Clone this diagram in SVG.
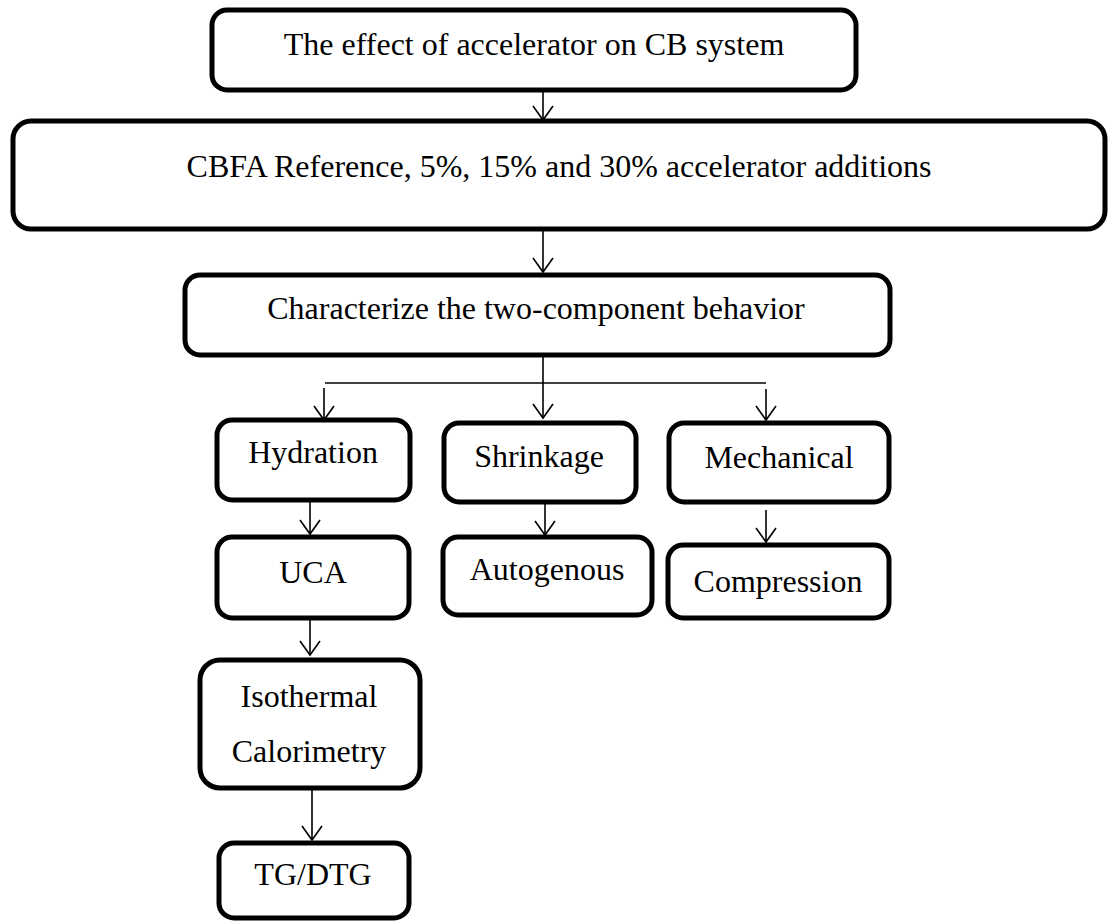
<svg xmlns="http://www.w3.org/2000/svg" width="1109" height="922" viewBox="0 0 1109 922">
<style>
.box{fill:#fff;stroke:#000;stroke-width:5}
.lbl{font-family:"Liberation Serif","Times New Roman",serif;font-size:32px;fill:#000;text-anchor:middle}
.con{fill:none;stroke:#000;stroke-width:1.6}
</style>
<defs>
<marker id="ah" markerUnits="userSpaceOnUse" orient="auto" refX="0" refY="0" markerWidth="40" markerHeight="40" viewBox="-20 -20 40 40" overflow="visible">
<path d="M-14,-10 L0,0 L-14,10" fill="none" stroke="#000" stroke-width="1.6"/>
</marker>
</defs>
<rect width="1109" height="922" fill="#fff"/>
<g id="connectors">
<line class="con" x1="543" y1="92" x2="543" y2="120" marker-end="url(#ah)"/>
<line class="con" x1="543" y1="231" x2="543" y2="272" marker-end="url(#ah)"/>
<line class="con" x1="543" y1="357" x2="543" y2="383"/>
<line class="con" x1="325" y1="383" x2="766" y2="383"/>
<line class="con" x1="324" y1="388" x2="324" y2="420" marker-end="url(#ah)"/>
<line class="con" x1="543" y1="383" x2="543" y2="418" marker-end="url(#ah)"/>
<line class="con" x1="766" y1="389" x2="766" y2="420" marker-end="url(#ah)"/>
<line class="con" x1="310" y1="502" x2="310" y2="534" marker-end="url(#ah)"/>
<line class="con" x1="545" y1="502" x2="545" y2="535" marker-end="url(#ah)"/>
<line class="con" x1="766" y1="510" x2="766" y2="542" marker-end="url(#ah)"/>
<line class="con" x1="310" y1="620" x2="310" y2="655" marker-end="url(#ah)"/>
<line class="con" x1="312" y1="790" x2="312" y2="840" marker-end="url(#ah)"/>
</g>
<g id="node-effect">
<rect class="box" x="212" y="10" width="644" height="80" rx="15"/>
<text class="lbl" x="534" y="55">The effect of accelerator on CB system</text>
</g>
<g id="node-cbfa">
<rect class="box" x="13" y="121" width="1092" height="108" rx="18"/>
<text class="lbl" x="559" y="177">CBFA Reference, 5%, 15% and 30% accelerator additions</text>
</g>
<g id="node-characterize">
<rect class="box" x="185" y="275" width="705" height="80" rx="15"/>
<text class="lbl" x="536" y="319">Characterize the two-component behavior</text>
</g>
<g id="node-hydration">
<rect class="box" x="217" y="420" width="193" height="80" rx="15"/>
<text class="lbl" x="313" y="463">Hydration</text>
</g>
<g id="node-shrinkage">
<rect class="box" x="444" y="423" width="192" height="79" rx="15"/>
<text class="lbl" x="539" y="467">Shrinkage</text>
</g>
<g id="node-mechanical">
<rect class="box" x="669" y="423" width="220" height="79" rx="15"/>
<text class="lbl" x="779" y="468">Mechanical</text>
</g>
<g id="node-uca">
<rect class="box" x="217" y="537" width="192" height="81" rx="15"/>
<text class="lbl" x="313" y="583">UCA</text>
</g>
<g id="node-autogenous">
<rect class="box" x="443" y="537" width="209" height="78" rx="15"/>
<text class="lbl" x="547" y="580">Autogenous</text>
</g>
<g id="node-compression">
<rect class="box" x="668" y="545" width="221" height="73" rx="15"/>
<text class="lbl" x="778" y="592">Compression</text>
</g>
<g id="node-isothermal">
<rect class="box" x="200" y="660" width="220" height="128" rx="20"/>
<text class="lbl" x="309" y="707">Isothermal</text>
<text class="lbl" x="309" y="762">Calorimetry</text>
</g>
<g id="node-tgdtg">
<rect class="box" x="219" y="843" width="190" height="75" rx="15"/>
<text class="lbl" x="313" y="885">TG/DTG</text>
</g>
</svg>
